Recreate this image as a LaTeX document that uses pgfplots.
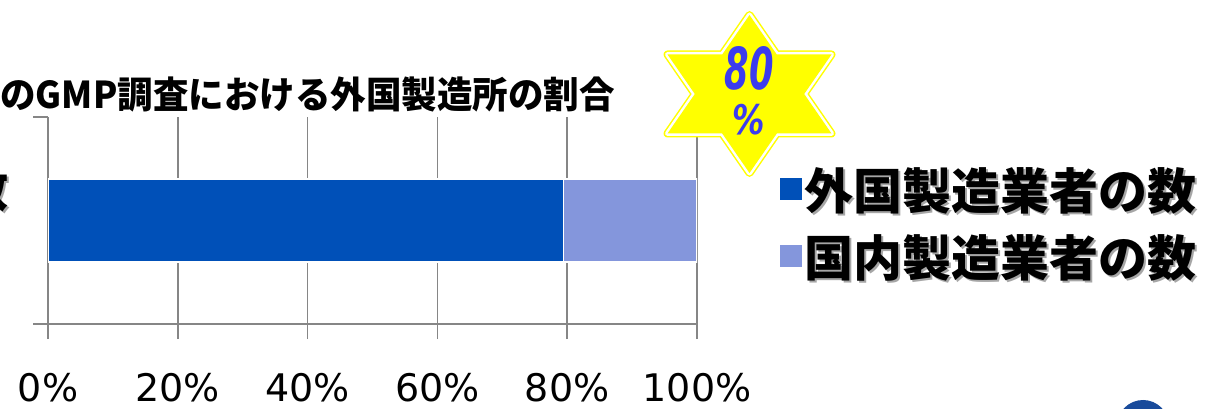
\documentclass[border=0pt]{standalone}
\usepackage{pgfplots}
\pgfplotsset{compat=1.18}
\usepackage{fontspec}
\newfontfamily\cjk{Noto Sans CJK JP}
\newfontfamily\dejavu{DejaVu Sans}
\definecolor{fgn}{RGB}{0,80,184}
\definecolor{dom}{RGB}{132,150,220}
\definecolor{gridg}{RGB}{134,134,134}
\definecolor{starblue}{RGB}{60,60,238}
\definecolor{staryellow}{RGB}{255,255,0}
\definecolor{logoblue}{RGB}{25,75,155}
\newcommand{\shd}[1]{\makebox[0pt][l]{\hspace*{2pt}\raisebox{-2pt}{\color{black!35}#1}}#1}

\begin{document}
\begin{tikzpicture}
\useasboundingbox (0pt,0pt) rectangle (1206pt,409pt);
\begin{axis}[
  at={(48pt,85pt)}, anchor=south west,
  scale only axis, width=649pt, height=207pt,
  xmin=0, xmax=100, ymin=0, ymax=2,
  xbar stacked, bar width=83pt,
  axis x line*=bottom, axis y line*=left,
  axis line style={gridg, line width=1.5pt, -},
  xtick={0,20,40,60,80,100},
  xticklabels={0\%,20\%,40\%,60\%,80\%,100\%},
  ytick={0,2}, yticklabels={},
  tick align=outside, major tick length=15pt,
  tick style={gridg, line width=1.5pt},
  xmajorgrids, grid style={gridg, line width=1.5pt},
  xticklabel style={font=\dejavu\fontsize{38}{40}\selectfont, anchor=center, yshift=-49pt},
  legend style={at={(axis description cs:1.128,0.49)}, anchor=west, draw=none, fill=none,
    inner sep=0pt, font=\cjk\bfseries\fontsize{49}{52}\selectfont, row sep=20pt,
    /tikz/every even column/.append style={column sep=13pt}},
  legend cell align=left,
]
\addplot[fill=fgn, draw=white, line width=1.2pt,
  legend image code/.code={\fill[fgn] (0pt,-10.5pt) rectangle (21pt,10.5pt);}]
  coordinates {(79.4,1)};
\addplot[fill=dom, draw=white, line width=1.2pt,
  legend image code/.code={\fill[dom] (0pt,-10.5pt) rectangle (21pt,10.5pt);}]
  coordinates {(20.6,1)};
\legend{\shd{外国製造業者の数}, \shd{国内製造業者の数}}
\end{axis}
% title
\node[anchor=east, inner sep=0pt, xscale=0.96, font=\cjk\bfseries\fontsize{37}{40}\selectfont] at (615pt,314pt) {のGMP調査における外国製造所の割合};
% partially visible category label
\node[anchor=east, inner sep=0pt, font=\cjk\bfseries\fontsize{48}{50}\selectfont] at (9pt,219pt) {\shd{数}};
% star
\begin{scope}[shift={(749.5pt,315pt)}, line join=round]
\draw[staryellow, line width=8pt] (0pt,79pt) -- (27.3pt,39.5pt) -- (82pt,39.5pt) -- (54.7pt,0pt) -- (82pt,-39.5pt) -- (27.3pt,-39.5pt) -- (0pt,-79pt) -- (-27.3pt,-39.5pt) -- (-82pt,-39.5pt) -- (-54.7pt,0pt) -- (-82pt,39.5pt) -- (-27.3pt,39.5pt) -- cycle;
\draw[white, line width=5pt] (0pt,79pt) -- (27.3pt,39.5pt) -- (82pt,39.5pt) -- (54.7pt,0pt) -- (82pt,-39.5pt) -- (27.3pt,-39.5pt) -- (0pt,-79pt) -- (-27.3pt,-39.5pt) -- (-82pt,-39.5pt) -- (-54.7pt,0pt) -- (-82pt,39.5pt) -- (-27.3pt,39.5pt) -- cycle;
\fill[staryellow] (0pt,79pt) -- (27.3pt,39.5pt) -- (82pt,39.5pt) -- (54.7pt,0pt) -- (82pt,-39.5pt) -- (27.3pt,-39.5pt) -- (0pt,-79pt) -- (-27.3pt,-39.5pt) -- (-82pt,-39.5pt) -- (-54.7pt,0pt) -- (-82pt,39.5pt) -- (-27.3pt,39.5pt) -- cycle;
\end{scope}
\node[starblue, font=\dejavu\bfseries\itshape\fontsize{42}{42}\selectfont, xscale=0.84, yscale=1.38, inner sep=0pt] at (749pt,341pt) {80};
\node[starblue, font=\dejavu\bfseries\itshape\fontsize{34}{34}\selectfont, xscale=0.95, yscale=1.2, inner sep=0pt] at (749pt,289pt) {\%};
% logo edge
\fill[logoblue] (1143pt,-17pt) circle (26pt);
\end{tikzpicture}
\end{document}
